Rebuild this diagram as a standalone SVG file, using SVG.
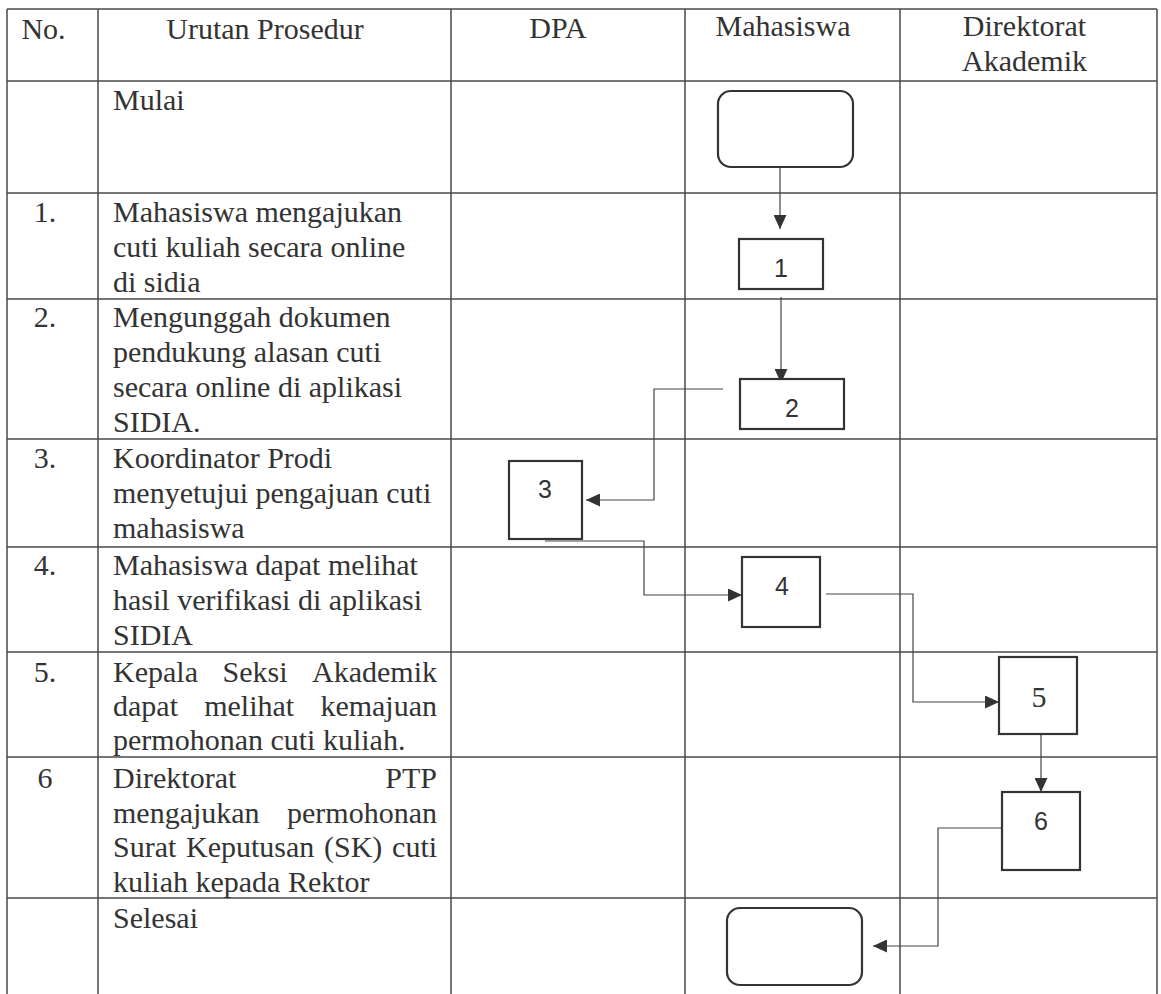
<svg xmlns="http://www.w3.org/2000/svg" width="1161" height="994" viewBox="0 0 1161 994">
<style>
.grid{stroke:#4a4a4a;stroke-width:1.5;fill:none}
.box{fill:#fff;stroke:#333;stroke-width:2.2}
.conn{fill:none;stroke:#444;stroke-width:1.2}
.t{font-family:"Liberation Serif","Times New Roman",serif;font-size:30px;fill:#333}
.c{text-anchor:middle}
.e{text-anchor:end}
.lbl{font-family:"Liberation Sans",Arial,sans-serif;font-size:25px;fill:#333;text-anchor:middle}
.lbl5{font-family:"Liberation Serif","Times New Roman",serif;font-size:30px;fill:#333;text-anchor:middle}
</style>
<defs>
<marker id="ah" markerUnits="userSpaceOnUse" markerWidth="14" markerHeight="13" refX="14" refY="6.5" orient="auto"><path d="M0,0 L14,6.5 L0,13 z" fill="#333"/></marker>
</defs>
<rect width="1161" height="994" fill="#fff"/>
<g id="table">
<path class="grid" d="M7,9 H1157 M7,81 H1157 M7,193 H1157 M7,299 H1157 M7,439 H1157 M7,547 H1157 M7,652 H1157 M7,757 H1157 M7,898 H1157"/>
<path class="grid" d="M7,9 V994 M98,9 V994 M451,9 V994 M685,9 V994 M900,9 V994 M1157,9 V994"/>
<g id="header">
<text class="t c" x="43.5" y="39">No.</text>
<text class="t c" x="265" y="39">Urutan Prosedur</text>
<text class="t c" x="558" y="38">DPA</text>
<text class="t c" x="783" y="36">Mahasiswa</text>
<text class="t c" x="1024.5" y="36">Direktorat</text>
<text class="t c" x="1024.5" y="71">Akademik</text>
</g>
<g id="steps">
<text class="t" x="113" y="110">Mulai</text>
<text class="t c" x="45" y="222">1.</text>
<text class="t" x="113" y="222">Mahasiswa mengajukan</text>
<text class="t" x="113" y="257">cuti kuliah secara online</text>
<text class="t" x="113" y="292">di sidia</text>
<text class="t c" x="45" y="327">2.</text>
<text class="t" x="113" y="327">Mengunggah dokumen</text>
<text class="t" x="113" y="362">pendukung alasan cuti</text>
<text class="t" x="113" y="397">secara online di aplikasi</text>
<text class="t" x="113" y="432">SIDIA.</text>
<text class="t c" x="45" y="468">3.</text>
<text class="t" x="113" y="468">Koordinator Prodi</text>
<text class="t" x="113" y="503">menyetujui pengajuan cuti</text>
<text class="t" x="113" y="538">mahasiswa</text>
<text class="t c" x="45" y="575">4.</text>
<text class="t" x="113" y="575">Mahasiswa dapat melihat</text>
<text class="t" x="113" y="610">hasil verifikasi di aplikasi</text>
<text class="t" x="113" y="645">SIDIA</text>
<text class="t c" x="45" y="682">5.</text>
<text class="t" x="113" y="682">Kepala</text>
<text class="t" x="222.5" y="682">Seksi</text>
<text class="t e" x="437" y="682">Akademik</text>
<text class="t" x="113" y="716">dapat</text>
<text class="t" x="204.2" y="716">melihat</text>
<text class="t e" x="437" y="716">kemajuan</text>
<text class="t" x="113" y="750">permohonan cuti kuliah.</text>
<text class="t c" x="45" y="788">6</text>
<text class="t" x="113" y="788">Direktorat</text>
<text class="t e" x="437" y="788">PTP</text>
<text class="t" x="113" y="823">mengajukan</text>
<text class="t e" x="437" y="823">permohonan</text>
<text class="t" x="113" y="857" word-spacing="2.2">Surat Keputusan (SK) cuti</text>
<text class="t" x="113" y="892">kuliah kepada Rektor</text>
<text class="t" x="113" y="928">Selesai</text>
</g>
</g>
<g id="connectors">
<path class="conn" marker-end="url(#ah)" d="M780,167 V229"/>
<path class="conn" marker-end="url(#ah)" d="M781,297 V383"/>
<path class="conn" marker-end="url(#ah)" d="M723,389 H654 V500 H586"/>
<path class="conn" marker-end="url(#ah)" d="M545,541 H644 V595 H742"/>
<path class="conn" marker-end="url(#ah)" d="M826,594 H913 V702 H999"/>
<path class="conn" marker-end="url(#ah)" d="M1041,734 V792"/>
<path class="conn" marker-end="url(#ah)" d="M1002,828 H938 V946 H873"/>
</g>
<g id="start"><rect class="box" x="718" y="91" width="135" height="76" rx="13"/></g>
<g id="n1"><rect class="box" x="739" y="239" width="84" height="50"/><text class="lbl" x="781" y="277">1</text></g>
<g id="n2"><rect class="box" x="740" y="379" width="104" height="50"/><text class="lbl" x="792" y="417">2</text></g>
<g id="n3"><rect class="box" x="509" y="461" width="73" height="78"/><text class="lbl" x="545" y="498">3</text></g>
<g id="n4"><rect class="box" x="742" y="557" width="78" height="70"/><text class="lbl" x="782" y="595">4</text></g>
<g id="n5"><rect class="box" x="999" y="657" width="78" height="77"/><text class="lbl5" x="1039" y="707">5</text></g>
<g id="n6"><rect class="box" x="1002" y="792" width="78" height="78"/><text class="lbl" x="1041" y="830">6</text></g>
<g id="end"><rect class="box" x="727" y="908" width="135" height="77" rx="13"/></g>
</svg>
